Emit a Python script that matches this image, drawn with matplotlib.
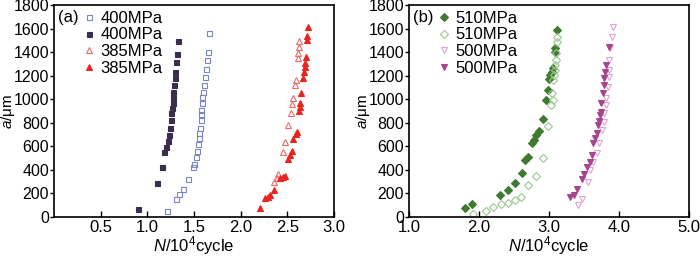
import numpy as np
import matplotlib
matplotlib.use("Agg")
import matplotlib.pyplot as plt

plt.rcParams["font.family"] = ["Liberation Sans", "DejaVu Sans"]
plt.rcParams["mathtext.fontset"] = "custom"
plt.rcParams["mathtext.rm"] = "Liberation Sans"
plt.rcParams["mathtext.it"] = "Liberation Sans:italic"

# ----------------------------
# Data (a): N in 10^4 cycles, a in um
# ----------------------------
n400_open = [1.21, 1.31, 1.34, 1.38, 1.44, 1.49, 1.50, 1.52, 1.53, 1.54, 1.55, 1.55, 1.56,
             1.57, 1.58, 1.58, 1.59, 1.59, 1.60, 1.61, 1.62, 1.63, 1.64, 1.65, 1.66]
a400_open = [54, 153, 193, 238, 323, 427, 447, 507, 560, 620, 668, 710, 753,
             823, 872, 908, 965, 1016, 1064, 1121, 1186, 1254, 1333, 1403, 1560]

n400_fill = [0.90, 1.10, 1.16, 1.18, 1.20, 1.22, 1.23, 1.24, 1.25, 1.25, 1.26, 1.27,
             1.28, 1.28, 1.29, 1.30, 1.30, 1.31, 1.32, 1.33]
a400_fill = [68, 286, 427, 549, 597, 645, 696, 753, 824, 880, 923, 965,
             1008, 1064, 1121, 1178, 1234, 1313, 1381, 1497]

n385_open = [2.36, 2.39, 2.40, 2.45, 2.48, 2.51, 2.54, 2.55, 2.56, 2.58, 2.59, 2.61,
             2.61, 2.62, 2.63]
a385_open = [300, 334, 362, 554, 634, 781, 880, 957, 1013, 1121, 1163, 1347,
             1395, 1446, 1494]

n385_fill = [2.21, 2.26, 2.29, 2.31, 2.36, 2.42, 2.45, 2.47, 2.51, 2.53, 2.55, 2.56, 2.59,
             2.60, 2.63, 2.64, 2.64, 2.65, 2.67, 2.68, 2.69, 2.69, 2.70, 2.71, 2.71, 2.72]
a385_fill = [79, 159, 173, 187, 229, 328, 342, 351, 492, 527, 561, 659, 702,
             725, 900, 937, 965, 1050, 1177, 1234, 1276, 1305, 1361, 1503, 1539, 1616]

# ----------------------------
# Data (b)
# ----------------------------
n510_fill = [1.80, 1.90, 2.30, 2.41, 2.51, 2.61, 2.66, 2.70, 2.75, 2.79, 2.82, 2.86, 2.91,
             2.96, 2.98, 3.00, 3.01, 3.04, 3.06, 3.08, 3.09, 3.11]
a510_fill = [74, 108, 187, 229, 291, 376, 484, 512, 631, 654, 696, 730, 829,
             993, 1078, 1172, 1206, 1234, 1262, 1403, 1432, 1588]

n510_open = [1.91, 2.10, 2.20, 2.31, 2.41, 2.51, 2.60, 2.70, 2.81, 2.91, 2.99, 3.03, 3.05,
             3.04, 3.06, 3.07, 3.08, 3.09, 3.10, 3.10, 3.11, 3.11]
a510_open = [25, 54, 88, 110, 122, 144, 173, 272, 348, 498, 773, 951, 993,
             1055, 1163, 1206, 1248, 1290, 1333, 1390, 1489, 1531]

n500_open = [3.42, 3.47, 3.56, 3.59, 3.63, 3.68, 3.72, 3.75, 3.78, 3.79, 3.81, 3.82, 3.84,
             3.85, 3.86, 3.86, 3.87, 3.90, 3.91]
a500_open = [102, 153, 300, 399, 470, 541, 626, 739, 809, 880, 951, 1008, 1106,
             1191, 1248, 1333, 1432, 1531, 1616]

n500_fill = [3.30, 3.35, 3.40, 3.47, 3.50, 3.54, 3.58, 3.61, 3.63, 3.66, 3.68, 3.70, 3.72,
             3.73, 3.74, 3.74, 3.77, 3.78, 3.79, 3.80, 3.81, 3.85]
a500_fill = [173, 187, 238, 323, 362, 427, 470, 527, 631, 668, 710, 781, 815,
             866, 894, 965, 1050, 1121, 1177, 1234, 1290, 1446]

FS = 12

fig = plt.figure(figsize=(7, 2.56), dpi=100)
ax1 = fig.add_axes([54 / 700, 39 / 256, 280 / 700, 212 / 256])
ax2 = fig.add_axes([409 / 700, 39 / 256, 280 / 700, 212 / 256])


def mk(ax, x, y, marker, color, filled, label, ms=4):
    ax.plot(x, y, linestyle="none", marker=marker, markersize=ms,
            markerfacecolor=color if filled else "none",
            markeredgecolor=color, markeredgewidth=0.8, label=label)


# (a)
mk(ax1, n400_open, a400_open, "s", "#7b83c9", False, "400MPa", 3.6)
mk(ax1, n400_fill, a400_fill, "s", "#3b2d4f", True, "400MPa", 3.6)
mk(ax1, n385_open, a385_open, "^", "#ef6b6b", False, "385MPa", 4.2)
mk(ax1, n385_fill, a385_fill, "^", "#e8251f", True, "385MPa", 4.2)

# (b)
mk(ax2, n510_fill, a510_fill, "D", "#3f7a30", True, "510MPa", 3.6)
mk(ax2, n510_open, a510_open, "D", "#9cc890", False, "510MPa", 3.6)
mk(ax2, n500_open, a500_open, "v", "#e2a3d6", False, "500MPa", 4.2)
mk(ax2, n500_fill, a500_fill, "v", "#a4458e", True, "500MPa", 4.2)

for ax, lim, ticks, tag in [
    (ax1, (0, 3.0), [0.5, 1.0, 1.5, 2.0, 2.5, 3.0], "(a)"),
    (ax2, (1.0, 5.0), [1.0, 2.0, 3.0, 4.0, 5.0], "(b)"),
]:
    ax.set_xlim(*lim)
    ax.set_ylim(0, 1800)
    ax.set_xticks(ticks)
    ax.set_xticklabels([f"{t:.1f}" for t in ticks])
    ax.set_yticks(np.arange(0, 1801, 200))
    ax.tick_params(axis="x", direction="in", length=4, width=1, pad=2, labelsize=FS)
    ax.tick_params(axis="y", direction="out", length=3, width=1, pad=0.5, labelsize=11.5)
    for s in ax.spines.values():
        s.set_linewidth(1.2)
    ax.set_xlabel(r"$N$/10$^4$cycle", fontsize=FS)
    ax.set_ylabel(r"$a$/μm", fontsize=11)
    ax.xaxis.set_label_coords(0.5, -0.08)
    ax.yaxis.set_label_coords(-0.133, 0.5)
    ax.text(0.015, 0.975, tag, transform=ax.transAxes, fontsize=FS, va="top", ha="left")
    ax.legend(loc="upper left", bbox_to_anchor=(0.07, 1.02), frameon=False,
              fontsize=FS, handlelength=0.7, handletextpad=0.3,
              labelspacing=0.1, borderaxespad=0.2)

fig.savefig("out.png", dpi=100)
